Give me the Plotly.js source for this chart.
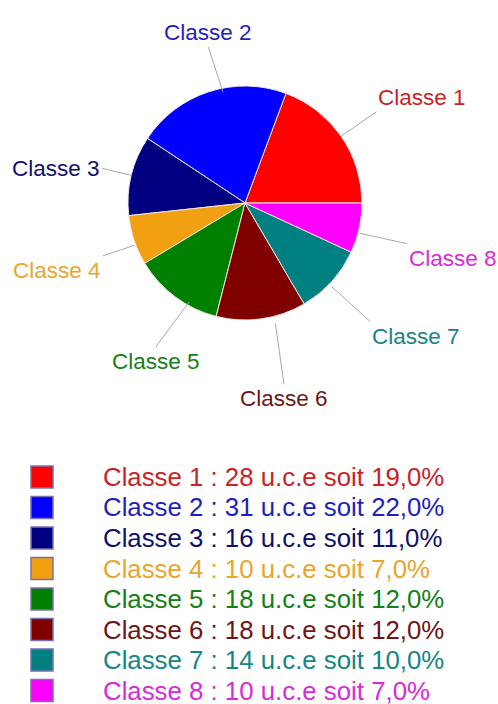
<!DOCTYPE html>
<html>
<head>
<meta charset="utf-8">
<script src="https://cdn.plot.ly/plotly-3.0.1.min.js"></script>
<style>html,body{margin:0;padding:0;background:#fff;}#chart{width:498px;height:704px;}</style>
</head>
<body>
<div id="chart"></div>
<script>
// ---- data ----
const classes = ['Classe 1','Classe 2','Classe 3','Classe 4','Classe 5','Classe 6','Classe 7','Classe 8'];
const uce = [28, 31, 16, 10, 18, 18, 14, 10];
const percents = ['19,0%','22,0%','11,0%','7,0%','12,0%','12,0%','10,0%','7,0%'];

// ---- styles / layout ----
const sliceColors = ['#ff0000','#0000ff','#000080','#f0a010','#008000','#800000','#008080','#ff00ff'];
const textColors = ['#cc1f1f','#1f1fbf','#10106a','#eba52a','#158015','#701515','#158585','#d82ad8'];
const leaderLen = [43, 47, 30, 33, 56, 61, 52, 49]; // leader-line lengths in px

const W = 498, H = 704;
const cx = 245, cy = 203, R = 117;
const FONT = 'Liberation Sans, Arial, sans-serif';

const total = uce.reduce((a, b) => a + b, 0);
const annotations = [];
const shapes = [];
let cum = 0;
uce.forEach((v, i) => {
  const mid = (cum + v / 2) / total * 2 * Math.PI; // counterclockwise from 3 o'clock
  cum += v;
  const c = Math.cos(mid), s = Math.sin(mid);
  const ex = cx + R * c, ey = cy - R * s;
  const L = leaderLen[i];
  const xanchor = c > 0.7 ? 'left' : (c < -0.7 ? 'right' : 'center');
  const yanchor = s > 0.3 ? 'bottom' : (s < -0.15 ? 'top' : 'middle');
  annotations.push({
    x: ex / W, y: 1 - ey / H, xref: 'paper', yref: 'paper',
    ax: L * c, ay: -L * s,
    showarrow: true, arrowhead: 0, arrowwidth: 1, arrowcolor: '#a8a8a8',
    standoff: 0, startstandoff: 0,
    text: classes[i], xanchor: xanchor, yanchor: yanchor,
    xshift: xanchor === 'center' ? 14 : 0,
    yshift: yanchor === 'top' ? -5 : 0,
    font: {family: FONT, size: 22.5, color: textColors[i]}
  });
});

// legend rows
const rowY0 = 477, rowStep = 30.5;
classes.forEach((name, i) => {
  const y = rowY0 + i * rowStep;
  annotations.push({
    x: 101 / W, y: 1 - y / H, xref: 'paper', yref: 'paper',
    xanchor: 'left', yanchor: 'middle', showarrow: false,
    text: name + ' : ' + uce[i] + ' u.c.e soit ' + percents[i],
    font: {family: FONT, size: 25.8, color: textColors[i]}
  });
  shapes.push({
    type: 'rect', xref: 'paper', yref: 'paper',
    x0: 31 / W, x1: 53 / W, y0: 1 - (y - 11) / H, y1: 1 - (y + 11) / H,
    fillcolor: sliceColors[i], line: {color: '#7a6fb0', width: 1.5}
  });
});

// first slice starts at 3 o'clock and runs counterclockwise
const trace = {
  type: 'pie',
  labels: classes,
  values: uce,
  sort: false,
  direction: 'counterclockwise',
  rotation: 90 - uce[0] / total * 360,
  textinfo: 'none',
  hoverinfo: 'label+value',
  marker: {colors: sliceColors, line: {color: '#f2e6e6', width: 1}},
  domain: {x: [(cx - R) / W, (cx + R) / W], y: [1 - (cy + R) / H, 1 - (cy - R) / H]},
  showlegend: false
};

const layout = {
  width: W, height: H,
  margin: {l: 0, r: 0, t: 0, b: 0},
  paper_bgcolor: '#ffffff',
  showlegend: false,
  annotations: annotations,
  shapes: shapes
};

Plotly.newPlot('chart', [trace], layout, {displayModeBar: false, staticPlot: true});
</script>
</body>
</html>
